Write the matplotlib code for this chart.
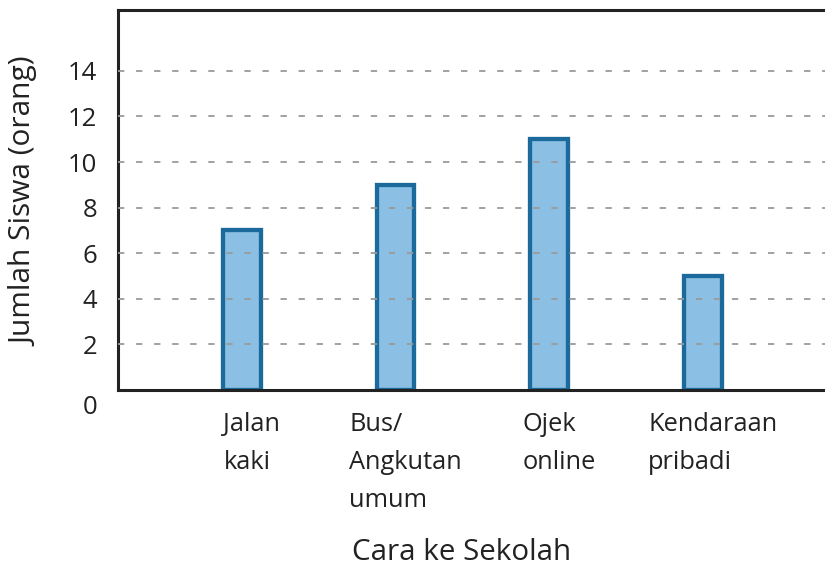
import matplotlib
matplotlib.use("Agg")
import matplotlib.pyplot as plt
from matplotlib.transforms import blended_transform_factory, ScaledTranslation
import numpy as np

categories = ["Jalan\nkaki", "Bus/\nAngkutan\numum", "Ojek\nonline", "Kendaraan\npribadi"]
jumlah_siswa = [7, 9, 11, 5]
y_ticks = [0, 2, 4, 6, 8, 10, 12, 14]

plt.rcParams["font.family"] = ["Open Sans", "DejaVu Sans"]

fig = plt.figure(figsize=(8.25, 5.67), dpi=100)
ax = fig.add_axes([118 / 825, 1 - 390 / 567, 1 - 118 / 825 + 0.01, (390 - 10) / 567])

x = np.arange(len(categories))
ax.bar(x, jumlah_siswa, width=0.245, color="#8bc0e4", edgecolor="#1b6a9b",
       linewidth=3.1, zorder=2)

ax.set_xlim(-0.807, 3.85)
ax.set_ylim(0, 16.67)

# dashed guide lines drawn over the bars
for v in y_ticks[1:]:
    ax.axhline(v, color="#9a9a9a", linestyle=(0, (3.5, 6.5)), linewidth=1.3, zorder=3)

ax.set_yticks(y_ticks)
ax.set_yticklabels([str(v) for v in y_ticks])
ax.tick_params(axis="y", length=0, pad=15, labelsize=18.5, labelcolor="#222222")
ax.set_xticks([])

# zero label sits a little below the base line
lbl0 = ax.get_yticklabels()[0]
lbl0.set_transform(lbl0.get_transform() + ScaledTranslation(0, -15 / 100, fig.dpi_scale_trans))

for side in ["left", "bottom", "top"]:
    ax.spines[side].set_linewidth(2.2)
    ax.spines[side].set_color("#222222")
ax.spines["right"].set_visible(False)

trans = blended_transform_factory(ax.transData, ax.transAxes)
for xi, name in zip(x, categories):
    ax.text(xi + 0.065, -0.058, name, transform=trans, ha="center", va="top",
            multialignment="left", fontsize=18.3, color="#222222", linespacing=1.68)

fig.text(462 / 825, 1 - 553 / 567, "Cara ke Sekolah", ha="center", va="center",
         fontsize=21.3, color="#222222")
fig.text(25 / 825, 1 - 202 / 567, "Jumlah Siswa (orang)", ha="center", va="center",
         rotation=90, fontsize=21.5, color="#222222")

fig.savefig("out.png", dpi=100)
